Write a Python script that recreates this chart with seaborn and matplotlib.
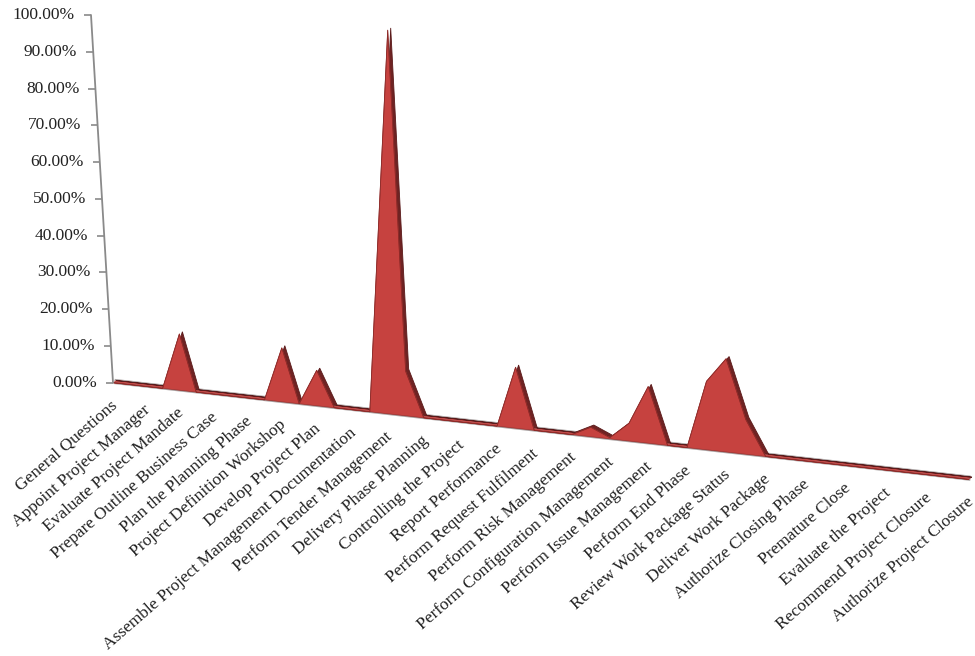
import numpy as np
import matplotlib
matplotlib.use("Agg")
import matplotlib.pyplot as plt
import matplotlib.transforms as mtransforms
import seaborn as sns

# ---------------- data ----------------
categories = [
    "General Questions", "Appoint Project Manager", "Evaluate Project Mandate",
    "Prepare Outline Business Case", "Plan the Planning Phase", "Project Definition Workshop",
    "Develop Project Plan", "Assemble Project Management Documentation",
    "Perform Tender Management", "Delivery Phase Planning", "Controlling the Project",
    "Report Performance", "Perform Request Fulfilment", "Perform Risk Management",
    "Perform Configuration Management", "Perform Issue Management", "Perform End Phase",
    "Review Work Package Status", "Deliver Work Package", "Authorize Closing Phase",
    "Premature Close", "Evaluate the Project", "Recommend Project Closure",
    "Authorize Project Closure",
]
# one value per data point; labels are shown on every second point (as in the source)
values = [
    0.0, 0.0, 0.0, 0.0, 14.3, 0.0, 0.0, 0.0, 0.0, 0.0,
    13.7, 0.0, 9.0, 0.0, 0.0, 0.0, 97.5, 11.3, 0.0, 0.0,
    0.0, 0.0, 0.0, 15.5, 0.0, 0.0, 0.0, 2.4, 0.3, 4.5,
    14.4, 0.0, 0.0, 17.4, 23.7, 8.8, 0.0, 0.0, 0.0, 0.0,
    0.0, 0.0, 0.0, 0.0, 0.0, 0.0, 0.0,
]
label_step = 2
yticks = [0, 10, 20, 30, 40, 50, 60, 70, 80, 90, 100]

# ---------------- style ----------------
sns.set_theme(style="white")
plt.rcParams["font.family"] = ["Liberation Serif", "DejaVu Serif"]

W, H = 975, 656
fig = plt.figure(figsize=(W / 100, H / 100), dpi=100)
fig.patch.set_facecolor("white")

x0px, x1px = 113, 969
ytop_px, yzero_px = 15.0, 382.7
ymin = -40
ppu = (yzero_px - ytop_px) / 100.0
ybot_px = yzero_px - ymin * ppu
ax = fig.add_axes([x0px / W, 1 - ybot_px / H, (x1px - x0px) / W, (ybot_px - ytop_px) / H])

# perspective-like category spacing (wider towards the viewer on the right)
A = 0.048 / 16.4
def fwd(j):
    j = np.asarray(j, float)
    return j + A * j * j
def inv(u):
    u = np.asarray(u, float)
    return (-1 + np.sqrt(np.maximum(1 + 4 * A * u, 0))) / (2 * A)

ax.set_xscale("function", functions=(fwd, inv))
n = len(values)
xj = np.arange(n)
ax.set_xlim(0, n - 1)
ax.set_ylim(ymin, 100)
ax.axis("off")

# 3-D look: floor sheared downwards to the right, front face slightly enlarged
ay0 = (0 - ymin) / (100 - ymin)
Wax = x1px - x0px
Hax = ybot_px - ytop_px
k = -0.113 * Wax / Hax
s = 1.07
M = np.array([[1, 0, 0], [k, s, ay0 * (1 - s)], [0, 0, 1]])
area_T = ax.transData + ax.transAxes.inverted() + mtransforms.Affine2D(M) + ax.transAxes
back_T = mtransforms.offset_copy(area_T, fig=fig, x=3, y=2.2, units="dots")

m = (-22.0 / Wax) / (1 - ay0)
Ma = np.array([[1, m, -m * ay0], [0, 1, 0], [0, 0, 1]])
axis_T = ax.transData + ax.transAxes.inverted() + mtransforms.Affine2D(Ma) + ax.transAxes

vals = np.asarray(values, float)
poly_x = np.concatenate([[xj[0]], xj, [xj[-1]]])
poly_y = np.concatenate([[0], vals, [0]])

# floor strip
strip_T = mtransforms.offset_copy(area_T, fig=fig, x=1.5, y=1.2, units="dots")
ax.plot([xj[0], xj[-1]], [0, 0], transform=strip_T, color="#a9a2a2", lw=3.8,
        solid_capstyle="butt", clip_on=False, zorder=1)
ax.plot([xj[0], xj[-1]], [0, 0], transform=strip_T, color="#c24a48", lw=1.3,
        solid_capstyle="butt", clip_on=False, zorder=1.1)

# back (depth) face
ax.fill(poly_x, poly_y, transform=back_T, facecolor="#6f2323", edgecolor="#5a1a1a",
        lw=0.6, clip_on=False, zorder=2)
# front face
ax.fill(poly_x, poly_y, transform=area_T, facecolor="#c6423f", edgecolor="#9a2f2d",
        lw=0.5, clip_on=False, zorder=3)
sns.lineplot(x=xj, y=vals, ax=ax, color="#8d2a28", lw=0.6, estimator=None, sort=False,
             transform=area_T, clip_on=False, zorder=3.5, legend=False)
ax.set_xlabel("")
ax.set_ylabel("")
ax.set_xlim(0, n - 1)
ax.set_ylim(ymin, 100)

# value axis (slightly leaning, as in the perspective source)
ax.plot([0, 0], [0, 100], transform=axis_T, color="#8a8a8a", lw=1.3, clip_on=False, zorder=4)
ax.plot(np.zeros(len(yticks)), yticks, ls="none", marker=0, ms=5, mew=1.2,
        color="#8a8a8a", transform=axis_T, clip_on=False, zorder=4)
lab_T = mtransforms.offset_copy(axis_T, fig=fig, x=-16, y=0, units="dots")
for v in yticks:
    ax.text(0, v, f"{v:.2f}%", transform=lab_T, ha="right", va="center",
            fontsize=12.5, color="#222222", clip_on=False)

# category labels
cat_T = mtransforms.offset_copy(area_T, fig=fig, x=-3, y=-15, units="dots")
for i, name in enumerate(categories):
    ax.text(i * label_step, 0, name, transform=cat_T, rotation=41, rotation_mode="anchor",
            ha="right", va="top", fontsize=12.5, color="#222222", clip_on=False)

fig.savefig("out.png", dpi=100, facecolor="white")
